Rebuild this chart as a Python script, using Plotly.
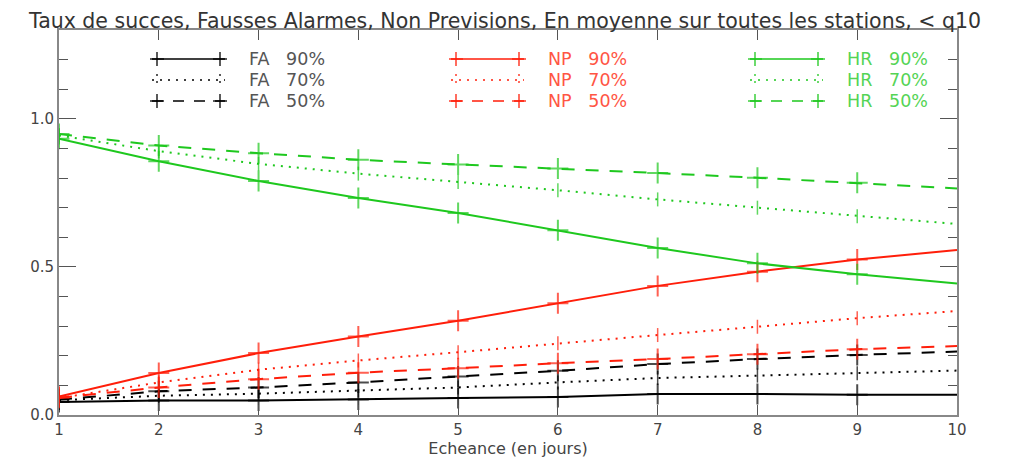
import plotly.graph_objects as go

# ---- data ----
days = [1, 2, 3, 4, 5, 6, 7, 8, 9, 10]

fa90 = [0.044, 0.049, 0.049, 0.052, 0.057, 0.061, 0.071, 0.071, 0.068, 0.068]
fa70 = [0.050, 0.065, 0.072, 0.083, 0.093, 0.110, 0.125, 0.133, 0.141, 0.150]
fa50 = [0.052, 0.080, 0.093, 0.110, 0.130, 0.149, 0.172, 0.189, 0.203, 0.214]

np90 = [0.062, 0.142, 0.209, 0.265, 0.318, 0.377, 0.436, 0.484, 0.525, 0.557]
np70 = [0.057, 0.110, 0.153, 0.184, 0.212, 0.242, 0.270, 0.298, 0.327, 0.351]
np50 = [0.058, 0.093, 0.121, 0.143, 0.158, 0.175, 0.189, 0.205, 0.222, 0.233]

hr90 = [0.933, 0.857, 0.790, 0.733, 0.682, 0.624, 0.564, 0.512, 0.475, 0.444]
hr70 = [0.944, 0.891, 0.848, 0.815, 0.787, 0.759, 0.728, 0.700, 0.671, 0.645]
hr50 = [0.949, 0.910, 0.884, 0.862, 0.846, 0.832, 0.817, 0.801, 0.784, 0.765]

legend_labels = [["FA 90%", "FA 70%", "FA 50%"],
                 ["NP 90%", "NP 70%", "NP 50%"],
                 ["HR 90%", "HR 70%", "HR 50%"]]

title_text = "Taux de succes, Fausses Alarmes, Non Previsions, En moyenne sur toutes les stations, < q10"
x_title = "Echeance (en jours)"

# ---- styles ----
BLACK = "#000000"
RED = "#ff1e0a"
GREEN = "#1ec81e"
FONT = "DejaVu Sans"
AXCOL = "#888888"
TXT = "#444444"

DASH = {"90": "solid", "70": "2px,6px", "50": "13px,11px"}

W, H = 1009, 463
OFF = 8  # default page body margin
# desired pixel plot box in the window: x 59..957, y 30..415
L = 59 - OFF
R = W - 957 + OFF
T = 30 - OFF
B = H - 415 + OFF

fig = go.Figure()

series = [
    (fa90, BLACK, "90"), (fa70, BLACK, "70"), (fa50, BLACK, "50"),
    (np90, RED, "90"), (np70, RED, "70"), (np50, RED, "50"),
    (hr90, GREEN, "90"), (hr70, GREEN, "70"), (hr50, GREEN, "50"),
]

for vals, col, lvl in series:
    if lvl == "70":
        msym = "line-ns"
        mw = 1.5
        sizes = [10] * (len(days) - 1) + [0]
    else:
        msym = "cross-thin"
        mw = 2
        sizes = [15] * (len(days) - 1) + [0]
    fig.add_trace(go.Scatter(
        x=days, y=vals, mode="lines+markers",
        line=dict(color=col, width=2, dash=DASH[lvl]),
        marker=dict(symbol=msym, size=sizes, color=col,
                    line=dict(color=col, width=mw)),
        showlegend=False, hoverinfo="skip", cliponaxis=True,
    ))

# ---- manual legend (paper coords from window pixel positions) ----
pw = 957 - 59
ph = 415 - 30


def px(x):
    return (x - 59) / pw


def py(y):
    return (415 - y) / ph


shapes = []
annotations = []
cols_x = [(152, 225, 248, BLACK, "#555555"),
          (451, 524, 547, RED, "#ff5544"),
          (750, 823, 846, GREEN, "#55d455")]
rows_y = [59, 80, 101]
lvls = ["90", "70", "50"]
for ci, (x0, x1, xt, col, tcol) in enumerate(cols_x):
    for ri, yy in enumerate(rows_y):
        lvl = lvls[ri]
        lw = 1.3
        shapes.append(dict(type="line", xref="paper", yref="paper",
                           x0=px(x0), x1=px(x1), y0=py(yy), y1=py(yy),
                           line=dict(color=col, width=lw,
                                     dash=DASH[lvl] if lvl != "50" else "11px,10px")))
        for xe in (x0 + 5, x1 - 5):
            if lvl == "70":
                shapes.append(dict(type="line", xref="paper", yref="paper",
                                   x0=px(xe), x1=px(xe), y0=py(yy - 6), y1=py(yy - 4),
                                   line=dict(color=col, width=1.3)))
                shapes.append(dict(type="line", xref="paper", yref="paper",
                                   x0=px(xe), x1=px(xe), y0=py(yy + 1), y1=py(yy + 3),
                                   line=dict(color=col, width=1.3)))
            else:
                shapes.append(dict(type="line", xref="paper", yref="paper",
                                   x0=px(xe), x1=px(xe), y0=py(yy - 7), y1=py(yy + 7),
                                   line=dict(color=col, width=1.3)))
                shapes.append(dict(type="line", xref="paper", yref="paper",
                                   x0=px(xe - 7), x1=px(xe + 7), y0=py(yy), y1=py(yy),
                                   line=dict(color=col, width=1.3)))
        annotations.append(dict(xref="paper", yref="paper", x=px(xt), y=py(yy),
                                xanchor="left", yanchor="middle", showarrow=False,
                                borderpad=0,
                                text=legend_labels[ci][ri].replace(" ", "&nbsp;&nbsp;&nbsp;"),
                                font=dict(family=FONT, size=17.5, color=tcol)))

# title centred on the window near the top
annotations.append(dict(xref="paper", yref="paper", x=px(504), y=py(OFF),
                        xanchor="center", yanchor="top", showarrow=False,
                        borderpad=0,
                        text=title_text,
                        font=dict(family=FONT, size=20.5, color="#333333")))

fig.update_layout(
    width=W, height=H,
    margin=dict(l=L, r=R, t=T, b=B, pad=0),
    paper_bgcolor="white", plot_bgcolor="white",
    shapes=shapes, annotations=annotations,
    xaxis=dict(range=[1, 10], tickmode="array", tickvals=days,
               ticktext=[str(d) for d in days],
               ticks="inside", ticklen=10, tickcolor="#555555", tickwidth=1,
               showline=True, linecolor=AXCOL, linewidth=2, mirror="ticks",
               showgrid=False, zeroline=False, automargin=False,
               tickfont=dict(family=FONT, size=15, color=TXT),
               title=dict(text=x_title, font=dict(family=FONT, size=16, color=TXT), standoff=4)),
    yaxis=dict(range=[0, 1.3], tickmode="array", tickvals=[0, 0.5, 1.0],
               ticktext=["0.0", "0.5", "1.0"],
               ticks="inside", ticklen=17, tickcolor="#555555", tickwidth=1,
               minor=dict(tickmode="array", tickvals=[0.1, 0.2, 0.3, 0.4, 0.6, 0.7, 0.8, 0.9, 1.1, 1.2],
                          ticks="inside", ticklen=9, tickcolor="#555555", tickwidth=1),
               showline=True, linecolor=AXCOL, linewidth=2, mirror="ticks",
               showgrid=False, zeroline=False, automargin=False,
               tickfont=dict(family=FONT, size=15, color=TXT)),
)

fig.write_html("out.html")
